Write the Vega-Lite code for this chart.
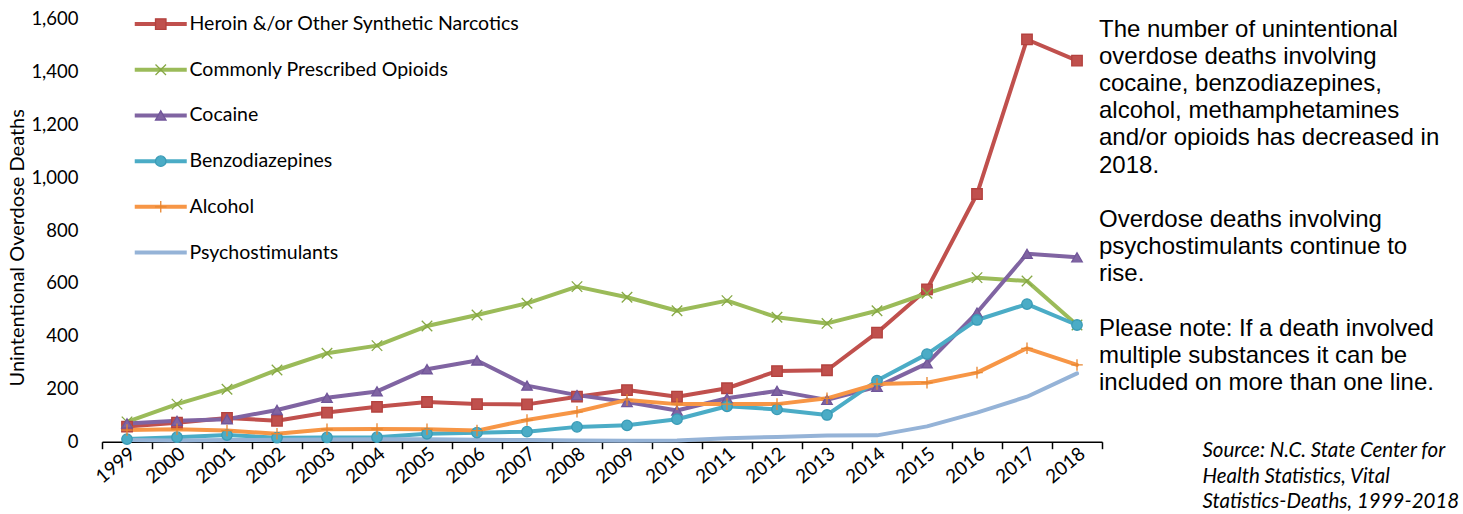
{
  "$schema": "https://vega.github.io/schema/vega-lite/v6.json",
  "autosize": {"type": "none"},
  "width": 1000,
  "height": 423.4,
  "padding": {"left": 102, "top": 18.3, "right": 361, "bottom": 72.3},
  "background": "white",
  "config": {"view": {"stroke": null}, "font": "Lato"},
  "title": {
    "text": ["The number of unintentional", "overdose deaths involving", "cocaine, benzodiazepines,", "alcohol, methamphetamines", "and/or opioids has decreased in", "2018.", "\u2800", "Overdose deaths involving", "psychostimulants continue to", "rise.", "\u2800", "Please note: If a death involved", "multiple substances it can be", "included on more than one line."],
    "orient": "top", "anchor": "end", "frame": "group", "align": "left", "angle": 0,
    "dx": -3, "offset": -386,
    "font": "Liberation Sans", "fontSize": 24, "fontWeight": "normal", "color": "#000000", "lineHeight": 27.2
  },
  "data": {"values": [
    {"year":"1999","series":"Heroin &/or Other Synthetic Narcotics","deaths":57},
    {"year":"2000","series":"Heroin &/or Other Synthetic Narcotics","deaths":72},
    {"year":"2001","series":"Heroin &/or Other Synthetic Narcotics","deaths":90},
    {"year":"2002","series":"Heroin &/or Other Synthetic Narcotics","deaths":79},
    {"year":"2003","series":"Heroin &/or Other Synthetic Narcotics","deaths":110},
    {"year":"2004","series":"Heroin &/or Other Synthetic Narcotics","deaths":132},
    {"year":"2005","series":"Heroin &/or Other Synthetic Narcotics","deaths":150},
    {"year":"2006","series":"Heroin &/or Other Synthetic Narcotics","deaths":142},
    {"year":"2007","series":"Heroin &/or Other Synthetic Narcotics","deaths":141},
    {"year":"2008","series":"Heroin &/or Other Synthetic Narcotics","deaths":170},
    {"year":"2009","series":"Heroin &/or Other Synthetic Narcotics","deaths":195},
    {"year":"2010","series":"Heroin &/or Other Synthetic Narcotics","deaths":170},
    {"year":"2011","series":"Heroin &/or Other Synthetic Narcotics","deaths":202},
    {"year":"2012","series":"Heroin &/or Other Synthetic Narcotics","deaths":267},
    {"year":"2013","series":"Heroin &/or Other Synthetic Narcotics","deaths":270},
    {"year":"2014","series":"Heroin &/or Other Synthetic Narcotics","deaths":412},
    {"year":"2015","series":"Heroin &/or Other Synthetic Narcotics","deaths":576},
    {"year":"2016","series":"Heroin &/or Other Synthetic Narcotics","deaths":936},
    {"year":"2017","series":"Heroin &/or Other Synthetic Narcotics","deaths":1520},
    {"year":"2018","series":"Heroin &/or Other Synthetic Narcotics","deaths":1440},
    {"year":"1999","series":"Commonly Prescribed Opioids","deaths":75},
    {"year":"2000","series":"Commonly Prescribed Opioids","deaths":142},
    {"year":"2001","series":"Commonly Prescribed Opioids","deaths":198},
    {"year":"2002","series":"Commonly Prescribed Opioids","deaths":271},
    {"year":"2003","series":"Commonly Prescribed Opioids","deaths":334},
    {"year":"2004","series":"Commonly Prescribed Opioids","deaths":363},
    {"year":"2005","series":"Commonly Prescribed Opioids","deaths":437},
    {"year":"2006","series":"Commonly Prescribed Opioids","deaths":479},
    {"year":"2007","series":"Commonly Prescribed Opioids","deaths":523},
    {"year":"2008","series":"Commonly Prescribed Opioids","deaths":586},
    {"year":"2009","series":"Commonly Prescribed Opioids","deaths":546},
    {"year":"2010","series":"Commonly Prescribed Opioids","deaths":495},
    {"year":"2011","series":"Commonly Prescribed Opioids","deaths":533},
    {"year":"2012","series":"Commonly Prescribed Opioids","deaths":470},
    {"year":"2013","series":"Commonly Prescribed Opioids","deaths":447},
    {"year":"2014","series":"Commonly Prescribed Opioids","deaths":495},
    {"year":"2015","series":"Commonly Prescribed Opioids","deaths":561},
    {"year":"2016","series":"Commonly Prescribed Opioids","deaths":620},
    {"year":"2017","series":"Commonly Prescribed Opioids","deaths":607},
    {"year":"2018","series":"Commonly Prescribed Opioids","deaths":441},
    {"year":"1999","series":"Cocaine","deaths":69},
    {"year":"2000","series":"Cocaine","deaths":79},
    {"year":"2001","series":"Cocaine","deaths":85},
    {"year":"2002","series":"Cocaine","deaths":120},
    {"year":"2003","series":"Cocaine","deaths":166},
    {"year":"2004","series":"Cocaine","deaths":190},
    {"year":"2005","series":"Cocaine","deaths":274},
    {"year":"2006","series":"Cocaine","deaths":307},
    {"year":"2007","series":"Cocaine","deaths":212},
    {"year":"2008","series":"Cocaine","deaths":176},
    {"year":"2009","series":"Cocaine","deaths":150},
    {"year":"2010","series":"Cocaine","deaths":118},
    {"year":"2011","series":"Cocaine","deaths":164},
    {"year":"2012","series":"Cocaine","deaths":192},
    {"year":"2013","series":"Cocaine","deaths":158},
    {"year":"2014","series":"Cocaine","deaths":207},
    {"year":"2015","series":"Cocaine","deaths":296},
    {"year":"2016","series":"Cocaine","deaths":488},
    {"year":"2017","series":"Cocaine","deaths":710},
    {"year":"2018","series":"Cocaine","deaths":697},
    {"year":"1999","series":"Benzodiazepines","deaths":10},
    {"year":"2000","series":"Benzodiazepines","deaths":17},
    {"year":"2001","series":"Benzodiazepines","deaths":25},
    {"year":"2002","series":"Benzodiazepines","deaths":15},
    {"year":"2003","series":"Benzodiazepines","deaths":16},
    {"year":"2004","series":"Benzodiazepines","deaths":17},
    {"year":"2005","series":"Benzodiazepines","deaths":30},
    {"year":"2006","series":"Benzodiazepines","deaths":34},
    {"year":"2007","series":"Benzodiazepines","deaths":38},
    {"year":"2008","series":"Benzodiazepines","deaths":56},
    {"year":"2009","series":"Benzodiazepines","deaths":62},
    {"year":"2010","series":"Benzodiazepines","deaths":85},
    {"year":"2011","series":"Benzodiazepines","deaths":134},
    {"year":"2012","series":"Benzodiazepines","deaths":122},
    {"year":"2013","series":"Benzodiazepines","deaths":101},
    {"year":"2014","series":"Benzodiazepines","deaths":231},
    {"year":"2015","series":"Benzodiazepines","deaths":331},
    {"year":"2016","series":"Benzodiazepines","deaths":460},
    {"year":"2017","series":"Benzodiazepines","deaths":520},
    {"year":"2018","series":"Benzodiazepines","deaths":441},
    {"year":"1999","series":"Alcohol","deaths":44},
    {"year":"2000","series":"Alcohol","deaths":47},
    {"year":"2001","series":"Alcohol","deaths":42},
    {"year":"2002","series":"Alcohol","deaths":30},
    {"year":"2003","series":"Alcohol","deaths":47},
    {"year":"2004","series":"Alcohol","deaths":48},
    {"year":"2005","series":"Alcohol","deaths":47},
    {"year":"2006","series":"Alcohol","deaths":42},
    {"year":"2007","series":"Alcohol","deaths":82},
    {"year":"2008","series":"Alcohol","deaths":113},
    {"year":"2009","series":"Alcohol","deaths":158},
    {"year":"2010","series":"Alcohol","deaths":142},
    {"year":"2011","series":"Alcohol","deaths":142},
    {"year":"2012","series":"Alcohol","deaths":142},
    {"year":"2013","series":"Alcohol","deaths":164},
    {"year":"2014","series":"Alcohol","deaths":218},
    {"year":"2015","series":"Alcohol","deaths":223},
    {"year":"2016","series":"Alcohol","deaths":261},
    {"year":"2017","series":"Alcohol","deaths":353},
    {"year":"2018","series":"Alcohol","deaths":290},
    {"year":"1999","series":"Psychostimulants","deaths":6},
    {"year":"2000","series":"Psychostimulants","deaths":5},
    {"year":"2001","series":"Psychostimulants","deaths":6},
    {"year":"2002","series":"Psychostimulants","deaths":7},
    {"year":"2003","series":"Psychostimulants","deaths":8},
    {"year":"2004","series":"Psychostimulants","deaths":9},
    {"year":"2005","series":"Psychostimulants","deaths":9},
    {"year":"2006","series":"Psychostimulants","deaths":7},
    {"year":"2007","series":"Psychostimulants","deaths":6},
    {"year":"2008","series":"Psychostimulants","deaths":5},
    {"year":"2009","series":"Psychostimulants","deaths":4},
    {"year":"2010","series":"Psychostimulants","deaths":5},
    {"year":"2011","series":"Psychostimulants","deaths":13},
    {"year":"2012","series":"Psychostimulants","deaths":18},
    {"year":"2013","series":"Psychostimulants","deaths":23},
    {"year":"2014","series":"Psychostimulants","deaths":24},
    {"year":"2015","series":"Psychostimulants","deaths":58},
    {"year":"2016","series":"Psychostimulants","deaths":110},
    {"year":"2017","series":"Psychostimulants","deaths":170},
    {"year":"2018","series":"Psychostimulants","deaths":258}
  ]},
  "encoding": {
    "x": {
      "field": "year", "type": "ordinal",
      "scale": {"type": "band", "paddingInner": 0, "paddingOuter": 0},
      "axis": {
        "domain": true, "domainColor": "#000000", "domainWidth": 1.5,
        "ticks": true, "tickColor": "#000000", "tickWidth": 1.5, "tickSize": 7, "tickBand": "extent",
        "labelAngle": -40, "labelAlign": "right", "labelBaseline": "middle", "labelPadding": 2, "labelOffset": 5,
        "labelFont": "Lato", "labelFontSize": 19, "labelColor": "#000000",
        "grid": false,
        "title": ["Source: N.C. State Center for", "Health Statistics, Vital", "Statistics-Deaths, 1999-2018"],
        "titleFont": "Lato", "titleFontStyle": "italic", "titleFontWeight": "normal", "titleFontSize": 20.5,
        "titleColor": "#000000", "titleAlign": "left", "titleBaseline": "top", "titleAngle": 0,
        "titleX": 1100, "titleY": -1, "titleLineHeight": 25.6
      }
    },
    "y": {
      "field": "deaths", "type": "quantitative",
      "scale": {"domain": [0, 1600], "nice": false},
      "axis": {
        "values": [0, 200, 400, 600, 800, 1000, 1200, 1400, 1600], "format": ",.0f",
        "domain": false, "ticks": false, "grid": false,
        "labelPadding": 24, "labelFont": "Lato", "labelFontSize": 18.5, "labelColor": "#000000",
        "title": "Unintentional Overdose Deaths", "titleFont": "Lato", "titleFontSize": 20,
        "titleFontWeight": "normal", "titleColor": "#000000",
        "titleAngle": -90, "titleAlign": "center", "titleBaseline": "middle",
        "titleX": -85, "titleY": 229
      }
    }
  },
  "layer": [
    {
      "mark": {"type": "line", "strokeWidth": 4, "strokeCap": "round", "strokeJoin": "round"},
      "encoding": {
        "color": {
          "field": "series", "type": "nominal",
          "scale": {
            "domain": ["Heroin &/or Other Synthetic Narcotics", "Commonly Prescribed Opioids", "Cocaine", "Benzodiazepines", "Alcohol", "Psychostimulants"],
            "range": ["#C0504D", "#9BBB59", "#8064A2", "#4BACC6", "#F79646", "#95B3D7"]
          },
          "legend": {
            "orient": "none", "legendX": 49, "legendY": -4, "title": null, "padding": 0,
            "symbolType": "M-4.96,0L4.96,0", "symbolSize": 110, "symbolStrokeWidth": 4,
            "labelFont": "Lato", "labelFontSize": 19.5, "labelColor": "#000000", "labelOffset": 19, "labelLimit": 500,
            "rowPadding": 24.7
          }
        }
      }
    },
    {
      "transform": [{"filter": "datum.series !== 'Psychostimulants'"}],
      "mark": {"type": "point", "filled": true, "size": 110, "opacity": 1, "strokeWidth": 1.3},
      "encoding": {
        "fill": {
          "field": "series", "type": "nominal",
          "scale": {
            "domain": ["Heroin &/or Other Synthetic Narcotics", "Commonly Prescribed Opioids", "Cocaine", "Benzodiazepines", "Alcohol"],
            "range": ["#C0504D", "#9BBB59", "#8064A2", "#4BACC6", "#F79646"]
          },
          "legend": {
            "orient": "none", "legendX": 49, "legendY": -4, "title": null, "padding": 0,
            "symbolSize": 110, "symbolStrokeWidth": 1.3,
            "labelFont": "Lato", "labelFontSize": 19.5, "labelColor": "transparent", "labelOffset": 19, "labelLimit": 500,
            "rowPadding": 24.7
          }
        },
        "stroke": {
          "field": "series", "type": "nominal",
          "scale": {
            "domain": ["Heroin &/or Other Synthetic Narcotics", "Commonly Prescribed Opioids", "Cocaine", "Benzodiazepines", "Alcohol"],
            "range": ["#B3413E", "#86A844", "#71569A", "#3A9BB6", "#E88630"]
          },
          "legend": {
            "orient": "none", "legendX": 49, "legendY": -4, "title": null, "padding": 0,
            "symbolSize": 110, "symbolStrokeWidth": 1.3,
            "labelFont": "Lato", "labelFontSize": 19.5, "labelColor": "transparent", "labelOffset": 19, "labelLimit": 500,
            "rowPadding": 24.7
          }
        },
        "shape": {
          "field": "series", "type": "nominal",
          "scale": {
            "domain": ["Heroin &/or Other Synthetic Narcotics", "Commonly Prescribed Opioids", "Cocaine", "Benzodiazepines", "Alcohol"],
            "range": ["square", "M-1,-1L1,1M-1,1L1,-1", "triangle-up", "circle", "M-1.1,0L1.1,0M0,-1.1L0,1.1"]
          },
          "legend": {
            "orient": "none", "legendX": 49, "legendY": -4, "title": null, "padding": 0,
            "symbolSize": 110, "symbolStrokeWidth": 1.3,
            "labelFont": "Lato", "labelFontSize": 19.5, "labelColor": "transparent", "labelOffset": 19, "labelLimit": 500,
            "rowPadding": 24.7
          }
        }
      }
    }
  ]
}
